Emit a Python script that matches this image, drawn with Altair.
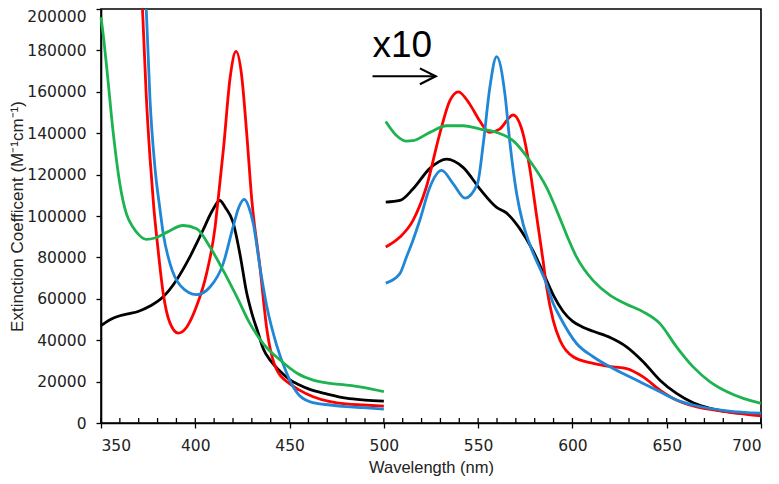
import altair as alt
import pandas as pd

# ---- data ----
black_l_x = [350, 355, 360, 365, 370, 376, 383, 390, 397, 404, 409, 413, 416, 420, 424, 427, 430, 433, 436, 440, 445, 450, 455, 460, 470, 480, 490, 500]
black_l_y = [47000, 50000, 51800, 52800, 54000, 56500, 61000, 69000, 80000, 93000, 102500, 107500, 104000, 97000, 80000, 64000, 53000, 44500, 36000, 30000, 25000, 21000, 18500, 16500, 14000, 12000, 11100, 10600]
black_r_x = [501, 508.5, 515.4, 524.4, 533.3, 542, 551, 559.8, 565, 572, 579, 586, 590, 595, 600, 605, 611, 620, 628.7, 637.5, 646.4, 655.2, 664, 673, 682, 690, 700]
black_r_y = [106700, 107500, 113000, 123000, 127500, 123500, 113000, 104200, 101500, 94000, 83400, 69500, 61500, 54000, 49200, 46500, 44300, 41300, 36800, 29600, 20700, 14300, 9800, 7100, 5500, 4600, 4000]

red_l_x = [372, 374, 376, 378, 380, 383, 386.5, 391, 395.5, 400.5, 406, 410.5, 412, 415, 418.5, 421.6, 424.5, 427.3, 430, 434.3, 438, 443, 450, 455, 462.5, 471.5, 480, 489, 500]
red_l_y = [200000, 158000, 128000, 104000, 86000, 62600, 48500, 43400, 46400, 56000, 72300, 94600, 107000, 133000, 167000, 179500, 168500, 139600, 107500, 75300, 45000, 26000, 19000, 16000, 12700, 10300, 9200, 8700, 8200]
red_r_x = [501, 508.5, 515.4, 522.5, 529.6, 535, 539.5, 545.5, 550.8, 556, 561.4, 568.5, 573.8, 577.3, 581, 584.4, 586.3, 589.8, 593.4, 600.4, 611, 621.6, 628.7, 637.5, 646.4, 655.2, 664, 682, 700]
red_r_y = [85000, 89800, 97800, 113900, 139600, 155700, 160000, 154100, 146000, 140400, 142000, 148800, 139800, 123500, 100000, 78600, 65700, 49600, 40000, 32000, 28800, 27100, 26300, 22300, 15900, 11100, 8200, 5400, 3400]

blue_l_x = [374, 376, 378.6, 381.3, 383, 386.6, 392, 400.7, 407.8, 414.8, 420, 423, 426, 428.5, 430.8, 434.3, 438, 443, 448.5, 451, 455.5, 462.5, 471.5, 480, 489, 500]
blue_l_y = [200000, 156000, 123500, 103000, 91500, 77000, 66500, 62000, 65700, 77000, 94600, 104000, 108000, 104000, 96200, 75300, 56000, 38000, 24000, 19000, 13000, 9800, 8700, 7900, 7400, 6700]
blue_r_x = [501, 508.5, 512, 515.4, 519, 524.4, 530.6, 536.8, 543, 549.6, 552.7, 556.2, 559.8, 564.2, 566.9, 570.4, 573.9, 577.5, 586.3, 589.7, 593.4, 602.2, 611, 621.6, 628.7, 637.5, 646.4, 655.2, 664, 682, 700]
blue_r_y = [67600, 72200, 80200, 88200, 97800, 113900, 122000, 115500, 108600, 115500, 134800, 162100, 177000, 158900, 135000, 110900, 96000, 86000, 67000, 58000, 51200, 38400, 32000, 26300, 23100, 19100, 15100, 11100, 8700, 5900, 4700]

green_l_x = [350, 351.5, 353, 356.5, 360, 363.5, 367, 370, 374, 379, 385, 393.5, 400.7, 407.8, 414.8, 422, 429, 436, 445, 454, 462.5, 471.5, 480, 489, 500]
green_l_y = [196000, 185000, 172000, 140000, 115500, 101000, 94600, 91000, 88700, 89500, 92200, 95400, 93800, 85000, 73700, 61000, 48000, 38400, 30400, 24000, 20700, 19100, 18300, 17200, 15100]
green_r_x = [501, 506.8, 512, 515.4, 524.4, 533.3, 542, 551, 559.8, 568.5, 577.3, 586.2, 594, 598, 602, 606, 611, 620, 628.7, 637.5, 646.4, 655.2, 664, 673, 682, 690.6, 700]
green_r_y = [145700, 138800, 136200, 136400, 140400, 143600, 143600, 142000, 140400, 136400, 126800, 113900, 97500, 88500, 80500, 74500, 68800, 61700, 57400, 53700, 48000, 36800, 27100, 19900, 15100, 11900, 9500]

series_names = ["black", "red", "blue", "green"]
series_colors = ["#000000", "#FF0000", "#1F87D6", "#1DB350"]

x_major = [350, 400, 450, 500, 550, 600, 650, 700]
x_minor = list(range(350, 701, 10))
y_ticks = list(range(0, 200001, 20000))

# ---- build table ----
rows = []
def add(name, seg, xs, ys):
    for i, (a, b) in enumerate(zip(xs, ys)):
        rows.append({"series": name, "seg": name + "_" + seg, "order": i, "wl": a, "eps": b})

add("black", "L", black_l_x, black_l_y)
add("black", "R", black_r_x, black_r_y)
add("red", "L", red_l_x, red_l_y)
add("red", "R", red_r_x, red_r_y)
add("blue", "L", blue_l_x, blue_l_y)
add("blue", "R", blue_r_x, blue_r_y)
add("green", "L", green_l_x, green_l_y)
add("green", "R", green_r_x, green_r_y)
df = pd.DataFrame(rows)

xscale = alt.Scale(domain=[350, 700], nice=False, zero=False)
yscale = alt.Scale(domain=[0, 200000], nice=False)

xaxis = alt.Axis(title="Wavelength (nm)", values=x_major, format="d",
                 tickSize=5, labelPadding=10, titlePadding=6,
                 labelFont="DejaVu Sans", labelFontSize=15.5,
                 titleFontSize=16.5, grid=False)
yaxis = alt.Axis(title="Extinction Coefficent (M\u207b\u00b9cm\u207b\u00b9)", values=y_ticks, format="d",
                 tickSize=5, labelPadding=10,
                 labelFont="DejaVu Sans", labelFontSize=15.5,
                 labelBaseline={"condition": {"test": "datum.value >= 200000", "value": "top"}, "value": "middle"},
                 titleFontSize=17, titleX=-84, titleBaseline="middle", titleAngle=270,
                 grid=False)

lines = alt.Chart(df).mark_line(strokeWidth=2.8, interpolate="monotone").encode(
    x=alt.X("wl:Q", scale=xscale, axis=xaxis),
    y=alt.Y("eps:Q", scale=yscale, axis=yaxis),
    color=alt.Color("series:N", scale=alt.Scale(domain=series_names, range=series_colors), legend=None),
    detail="seg:N",
    order="order:Q",
)

minor = alt.Chart(pd.DataFrame({"t": x_minor})).mark_rule(color="black", strokeWidth=1.3).encode(
    x=alt.X("t:Q", scale=xscale, axis=xaxis),
    y=alt.value(414),
    y2=alt.value(409),
)

ann = pd.DataFrame({"x1": [494.0], "x2": [527.5], "y": [167500], "tx": [494.0], "ty": [177000], "label": ["x10"]})

arrow_line = alt.Chart(ann).mark_rule(color="black", strokeWidth=2).encode(
    x=alt.X("x1:Q", scale=xscale, axis=xaxis),
    x2="x2:Q",
    y=alt.Y("y:Q", scale=yscale, axis=yaxis),
)
arrow_head = alt.Chart(ann).mark_point(shape="M -2 -1 L 0 0 L -2 1", filled=False, color="black",
                                       strokeWidth=2.2, size=250, opacity=1).encode(
    x=alt.X("x2:Q", scale=xscale, axis=xaxis),
    y=alt.Y("y:Q", scale=yscale, axis=yaxis),
)
x10 = alt.Chart(ann).mark_text(align="left", baseline="alphabetic", fontSize=37, font="Liberation Sans",
                               color="black").encode(
    x=alt.X("tx:Q", scale=xscale, axis=xaxis),
    y=alt.Y("ty:Q", scale=yscale, axis=yaxis),
    text="label:N",
)

chart = alt.layer(lines, minor, arrow_line, arrow_head, x10).properties(
    width=660, height=414,
    autosize="none",
    padding={"left": 93, "top": 1, "right": 8, "bottom": 55},
).configure_view(
    stroke="black", strokeWidth=1.6
).configure_axis(
    domainColor="black", domainWidth=1.6, tickColor="black", tickWidth=1.3,
    labelColor="#222222", titleColor="#222222",
    titleFont="Liberation Sans", titleFontWeight="normal",
)

chart.save("out.html", embed_options={"renderer": "svg", "actions": False})
